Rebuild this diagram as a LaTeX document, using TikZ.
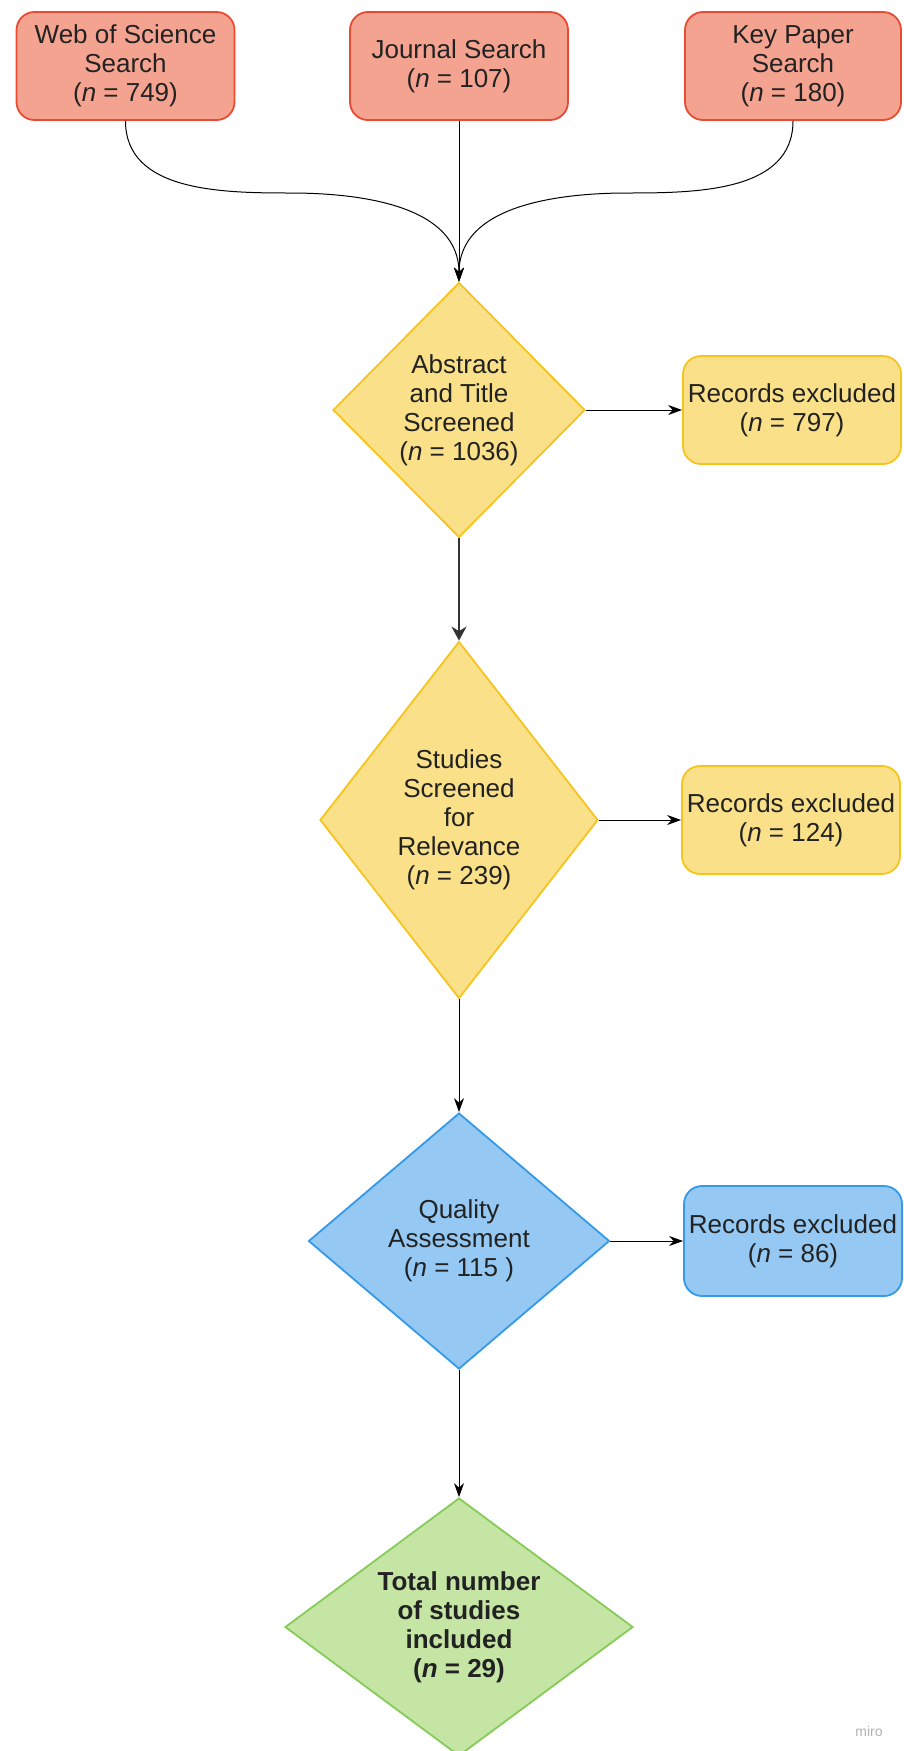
\documentclass[tikz,border=0pt]{standalone}
\usepackage{fontspec}
\setmainfont{Liberation Sans}
\usepackage{xcolor}
\usepackage{tikz}
\usetikzlibrary{shapes.geometric,arrows.meta,positioning}
\definecolor{txt}{HTML}{222222}
\definecolor{redfill}{HTML}{F5A391}
\definecolor{redline}{HTML}{E94B32}
\definecolor{yelfill}{HTML}{F9E089}
\definecolor{yelline}{HTML}{F5C41E}
\definecolor{blufill}{HTML}{95C9F3}
\definecolor{bluline}{HTML}{3499E8}
\definecolor{grnfill}{HTML}{C5E5A5}
\definecolor{grnline}{HTML}{86CB58}
\tikzset{lbl/.style={align=center,text=txt,font=\fontsize{13}{14.5}\selectfont}}
\tikzset{rbox/.style={lbl,rectangle,rounded corners=9pt,line width=0.9pt,minimum width=109pt,minimum height=54pt,inner sep=0pt}}
\tikzset{dia/.style={lbl,diamond,line width=0.9pt,inner sep=0pt}}

\begin{document}
\begin{tikzpicture}[>={Stealth[length=7pt,width=5pt]},x=0.5pt,y=-0.5pt]
    \useasboundingbox (0,0) rectangle (904,1751);
    \node[rbox,draw=redline,fill=redfill] (web) at (125.5,66) {Web of Science\\Search\\(\textit{n} = 749)};
    \node[rbox,draw=redline,fill=redfill] (jour) at (459,66) {Journal Search\\(\textit{n} = 107)};
    \node[rbox,draw=redline,fill=redfill,minimum width=108pt] (key) at (793,66) {Key Paper\\Search\\(\textit{n} = 180)};
    \node[dia,draw=yelline,fill=yelfill,minimum width=126pt,minimum height=127.5pt] (abs) at (459,410) {Abstract\\and Title\\Screened\\(\textit{n} = 1036)};
    \node[rbox,draw=yelline,fill=yelfill] (ex1) at (792,410) {Records excluded\\(\textit{n} = 797)};
    \node[dia,draw=yelline,fill=yelfill,aspect=0.78,minimum width=139pt,minimum height=178.5pt] (stu) at (459,820) {Studies\\Screened\\for\\Relevance\\(\textit{n} = 239)};
    \node[rbox,draw=yelline,fill=yelfill] (ex2) at (791,820) {Records excluded\\(\textit{n} = 124)};
    \node[dia,draw=bluline,fill=blufill,aspect=1.18,minimum width=150.5pt,minimum height=128pt] (qua) at (459,1241) {Quality\\Assessment\\(\textit{n} = 115 )};
    \node[rbox,draw=bluline,fill=blufill,minimum height=55pt] (ex3) at (793,1241) {Records excluded\\(\textit{n} = 86)};
    \node[dia,draw=grnline,fill=grnfill,aspect=1.35,minimum width=174pt,minimum height=129pt,font=\fontsize{13}{14.5}\selectfont\bfseries] (tot) at (459,1627) {Total number\\of studies\\included\\(\textit{n} = 29)};
    \node[text=black!30,font=\fontsize{7}{8}\selectfont] (miro) at (869,1731) {miro};

    \draw [->,line width=0.5pt] (web.south) to [out=-90,in=180] (290,193) to [out=0,in=90] (abs.north);
    \draw [->,line width=0.5pt] (key.south) to [out=-90,in=0] (628,193) to [out=180,in=90] (abs.north);
    \draw [->,line width=0.5pt] (jour) to [] (abs);
    \draw [->,line width=0.5pt] (abs) to [] (ex1);
    \draw [->,line width=1.2pt,black!80,>={Stealth[length=7pt,width=7.5pt]}] (abs) to [] (stu);
    \draw [->,line width=0.5pt] (stu) to [] (ex2);
    \draw [->,line width=0.5pt] (stu) to [] (qua);
    \draw [->,line width=0.5pt] (qua) to [] (ex3);
    \draw [->,line width=0.5pt] (qua) to [] (tot);
\end{tikzpicture}
\end{document}
